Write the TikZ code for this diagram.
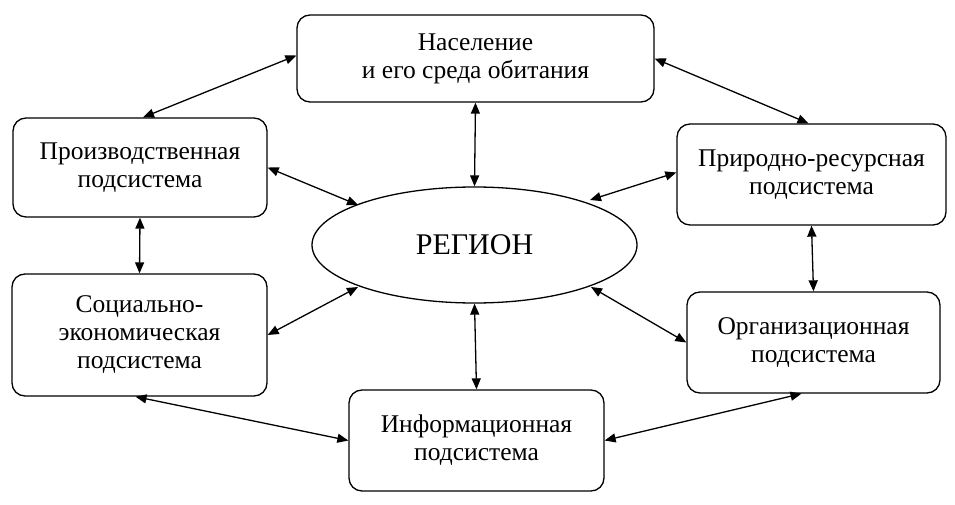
\documentclass[tikz,border=0pt]{standalone}
\usepackage{fontspec}
\setmainfont{Liberation Serif}
\usetikzlibrary{arrows.meta,calc,shapes.geometric}
\begin{document}
\begin{tikzpicture}[x=1pt,y=-1pt,
  box/.style={draw,rounded corners=13pt,line width=1.3pt,align=center,inner sep=0pt,
    font=\fontsize{25.5}{28}\selectfont},
  link/.style={line width=1.3pt,{Triangle[length=11pt,width=9pt]}-{Triangle[length=11pt,width=9pt]}}]
\useasboundingbox (0,0) rectangle (955,505);
\node[box,minimum width=357pt,minimum height=87pt] (top) at (475.5,58.5) {Население\\и его среда обитания};
\node[box,minimum width=254pt,minimum height=99pt] (lt) at (140,167.5) {Производственная\\подсистема};
\node[box,minimum width=269pt,minimum height=101pt] (rt) at (811.5,174.5) {Природно-ресурсная\\подсистема};
\node[box,minimum width=255pt,minimum height=122pt] (lb) at (139.5,335) {Социально-\\экономическая\\подсистема};
\node[box,minimum width=255pt,minimum height=101pt] (bot) at (476.5,440.5) {Информационная\\подсистема};
\node[box,minimum width=253pt,minimum height=101pt] (rb) at (813.5,342.5) {Организационная\\подсистема};
\node[draw,ellipse,line width=1.3pt,minimum width=325pt,minimum height=116pt,inner sep=0pt,
  font=\fontsize{30}{34}\selectfont] (reg) at (474.5,245) {РЕГИОН};
\draw[link] ($(lt.north)+(3,0)$) -- ($(top.west)+(0,-3)$);
\draw[link] (top.east) -- ($(rt.north)+(-3,0)$);
\draw[link] (top.south) -- (reg.north);
\draw[link] (lt.east) -- ($(reg.center)+(-116.5,-40)$);
\draw[link] ($(reg.center)+(115.5,-45)$) -- ($(rt.west)+(0,-2)$);
\draw[link] (lt.south) -- (lb.north);
\draw[link] (rt.south) -- (rb.north);
\draw[link] (lb.east) -- ($(reg.center)+(-116.5,42)$);
\draw[link] ($(reg.center)+(116.5,42)$) -- (rb.west);
\draw[link] (reg.south) -- (bot.north);
\draw[link] ($(lb.south)+(-4,0)$) -- (bot.west);
\draw[link] (bot.east) -- ($(rb.south)+(-12,0)$);
\end{tikzpicture}
\end{document}
